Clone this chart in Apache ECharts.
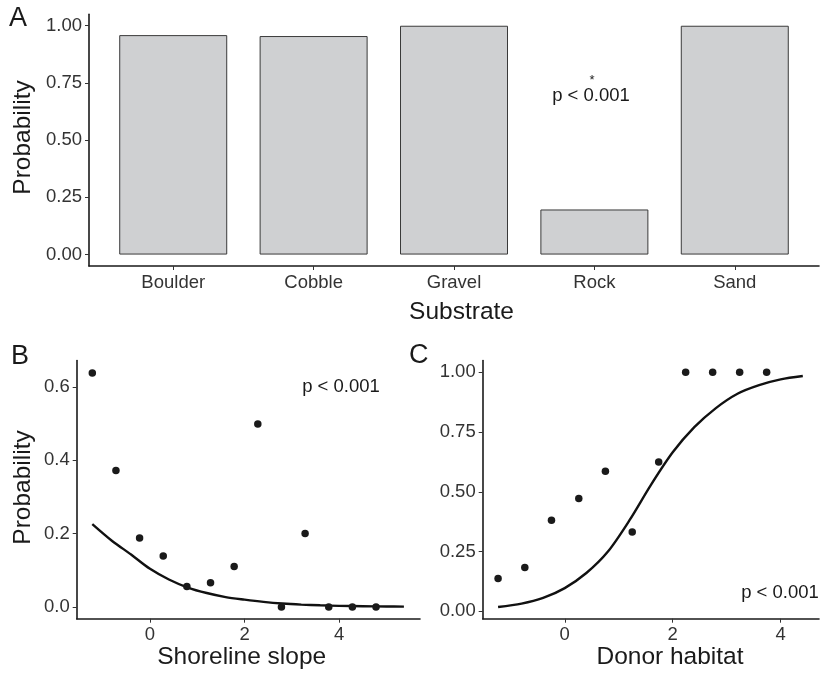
<!DOCTYPE html>
<html><head><meta charset="utf-8">
<script src="https://cdn.jsdelivr.net/npm/echarts@6/dist/echarts.min.js"></script>
<style>html,body{margin:0;padding:0;background:#fff}#c{width:821px;height:674px}</style>
</head><body><div id="c"></div>
<script>
// Panel A
const substrates = ['Boulder', 'Cobble', 'Gravel', 'Rock', 'Sand'];
const substrateProb = [0.959, 0.955, 1.0, 0.197, 1.0];
const ticksA_y = [0, 0.25, 0.5, 0.75, 1.0];
// Panel B
const slopeX = [-1.22, -0.72, -0.22, 0.28, 0.78, 1.28, 1.78, 2.28, 2.78, 3.28, 3.78, 4.28, 4.78];
const slopeProb = [0.638, 0.372, 0.188, 0.139, 0.056, 0.066, 0.11, 0.499, 0, 0.2, 0, 0, 0];
const slopeFitX = [-1.22, -0.8, -0.4, 0, 0.4, 0.8, 1.2, 1.6, 2.0, 2.4, 2.8, 3.2, 3.6, 4.0, 4.5, 5.0, 5.37];
const slopeFitY = [0.226, 0.180, 0.143, 0.104, 0.075, 0.053, 0.038, 0.027, 0.020, 0.014, 0.0095, 0.0065, 0.0045, 0.003, 0.002, 0.0013, 0.001];
const ticksB_x = [0, 2, 4];
const ticksB_y = [0, 0.2, 0.4, 0.6];
// Panel C
const donorX = [-1.235, -0.74, -0.246, 0.26, 0.753, 1.25, 1.74, 2.24, 2.74, 3.24, 3.74];
const donorProb = [0.137, 0.183, 0.381, 0.472, 0.586, 0.332, 0.624, 1, 1, 1, 1];
const donorFitX = [-1.235, -0.8, -0.4, 0, 0.4, 0.8, 1.2, 1.6, 2.0, 2.4, 2.8, 3.2, 3.6, 4.0, 4.41];
const donorFitY = [0.018, 0.032, 0.056, 0.097, 0.160, 0.250, 0.381, 0.530, 0.665, 0.770, 0.850, 0.910, 0.946, 0.970, 0.984];
const ticksC_x = [0, 2, 4];
const ticksC_y = [0, 0.25, 0.5, 0.75, 1.0];

const FONT = "'Liberation Sans', Arial, Helvetica, sans-serif";
const axisCommon = {
  axisLine: { show: true, onZero: false, lineStyle: { color: '#1a1a1a', width: 1.6 } },
  axisTick: { show: true, length: 4, lineStyle: { color: '#333', width: 1 } },
  splitLine: { show: false },
  axisLabel: { color: '#333', fontSize: 18.5, fontFamily: FONT, margin: 7 }
};
function vAxis(gridIndex, min, max, ticks, digits, extra) {
  return Object.assign({}, axisCommon, {
    type: 'value', gridIndex, min, max,
    axisTick: Object.assign({}, axisCommon.axisTick, { customValues: ticks }),
    axisLabel: Object.assign({}, axisCommon.axisLabel, {
      customValues: ticks,
      formatter: v => (digits === null ? String(v) : Number(v).toFixed(digits))
    })
  }, extra || {});
}

const chart = echarts.init(document.getElementById('c'), null, { renderer: 'canvas' });
const option = {
  animation: false,
  backgroundColor: '#fff',
  grid: [
    { left: 89, width: 730, top: 14.3, height: 251.7 },
    { left: 76.7, width: 343.3, top: 360.5, height: 258.2 },
    { left: 482.7, width: 336.3, top: 360.5, height: 258.2 }
  ],
  xAxis: [
    vAxis(0, -0.6, 4.6, [0, 1, 2, 3, 4], null, {
      axisLabel: Object.assign({}, axisCommon.axisLabel, {
        customValues: [0, 1, 2, 3, 4],
        formatter: v => substrates[Math.round(v)]
      })
    }),
    vAxis(1, -1.55, 5.71, ticksB_x, null),
    vAxis(2, -1.52, 4.71, ticksC_x, null)
  ],
  yAxis: [
    vAxis(0, -0.05, 1.05, ticksA_y, 2),
    vAxis(1, -0.032, 0.672, ticksB_y, 1),
    vAxis(2, -0.031, 1.049, ticksC_y, 2)
  ],
  series: [
    {
      type: 'bar', xAxisIndex: 0, yAxisIndex: 0, barWidth: 108,
      data: substrates.map((s, i) => [i, substrateProb[i]]),
      itemStyle: { color: '#cfd0d2', borderColor: '#3a3a3a', borderWidth: 1 }
    },
    {
      type: 'scatter', xAxisIndex: 1, yAxisIndex: 1, symbolSize: 7.5,
      data: slopeX.map((x, i) => [x, slopeProb[i]]),
      itemStyle: { color: '#1a1a1a', opacity: 1 }, z: 3
    },
    {
      type: 'line', xAxisIndex: 1, yAxisIndex: 1, showSymbol: false, smooth: 0.3,
      data: slopeFitX.map((x, i) => [x, slopeFitY[i]]),
      lineStyle: { color: '#111', width: 2.4 }
    },
    {
      type: 'scatter', xAxisIndex: 2, yAxisIndex: 2, symbolSize: 7.5,
      data: donorX.map((x, i) => [x, donorProb[i]]),
      itemStyle: { color: '#1a1a1a', opacity: 1 }, z: 3
    },
    {
      type: 'line', xAxisIndex: 2, yAxisIndex: 2, showSymbol: false, smooth: 0.3,
      data: donorFitX.map((x, i) => [x, donorFitY[i]]),
      lineStyle: { color: '#111', width: 2.4 }
    }
  ],
  graphic: [
    { type: 'text', left: 9, top: 5, style: { text: 'A', font: '27px ' + FONT, fill: '#1a1a1a' } },
    { type: 'text', left: 11, top: 343, style: { text: 'B', font: '27px ' + FONT, fill: '#1a1a1a' } },
    { type: 'text', left: 409, top: 342, style: { text: 'C', font: '27px ' + FONT, fill: '#1a1a1a' } },
    { type: 'text', x: 591, y: 96, style: { text: 'p < 0.001', font: '18.5px ' + FONT, fill: '#1a1a1a', align: 'center', verticalAlign: 'middle' } },
    { type: 'text', x: 592, y: 80, style: { text: '*', font: '13px ' + FONT, fill: '#1a1a1a', align: 'center', verticalAlign: 'middle' } },
    { type: 'text', x: 341, y: 387, style: { text: 'p < 0.001', font: '18.5px ' + FONT, fill: '#1a1a1a', align: 'center', verticalAlign: 'middle' } },
    { type: 'text', x: 780, y: 593, style: { text: 'p < 0.001', font: '18.5px ' + FONT, fill: '#1a1a1a', align: 'center', verticalAlign: 'middle' } },
    { type: 'text', x: 461.5, y: 312, style: { text: 'Substrate', font: '24.5px ' + FONT, fill: '#1a1a1a', align: 'center', verticalAlign: 'middle' } },
    { type: 'text', x: 241.7, y: 657, style: { text: 'Shoreline slope', font: '24.5px ' + FONT, fill: '#1a1a1a', align: 'center', verticalAlign: 'middle' } },
    { type: 'text', x: 670, y: 657, style: { text: 'Donor habitat', font: '24.5px ' + FONT, fill: '#1a1a1a', align: 'center', verticalAlign: 'middle' } },
    { type: 'text', x: 23, y: 137.5, rotation: Math.PI / 2, style: { text: 'Probability', font: '24.5px ' + FONT, fill: '#1a1a1a', align: 'center', verticalAlign: 'middle' } },
    { type: 'text', x: 23, y: 487.5, rotation: Math.PI / 2, style: { text: 'Probability', font: '24.5px ' + FONT, fill: '#1a1a1a', align: 'center', verticalAlign: 'middle' } }
  ]
};
chart.setOption(option);
</script>
</body></html>
